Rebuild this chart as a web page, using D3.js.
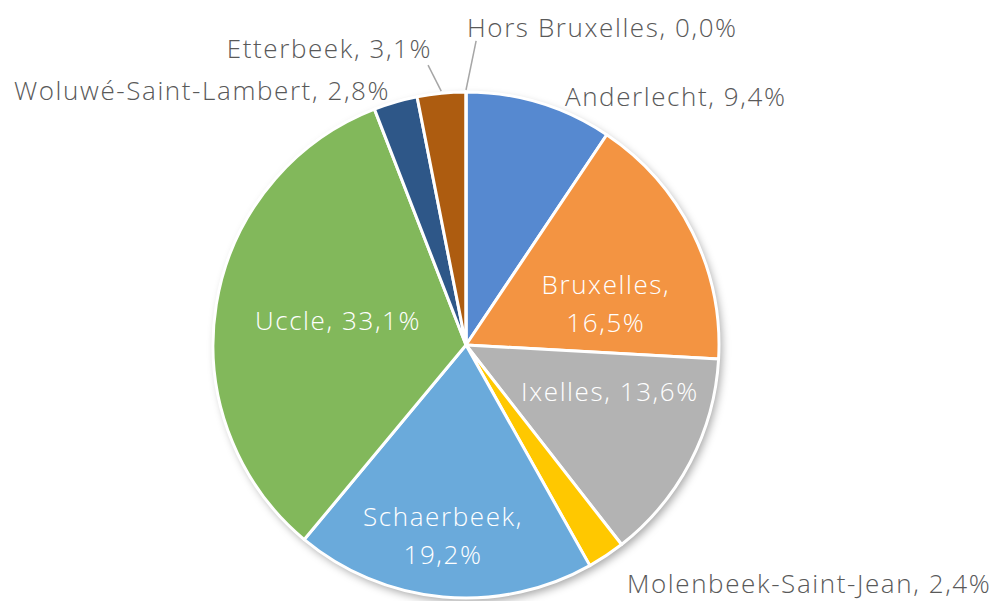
<!DOCTYPE html>
<html>
<head>
<meta charset="utf-8">
<script src="https://cdn.jsdelivr.net/npm/d3@7"></script>
<style>
  body { margin: 0; background: #fff; }
  svg text { font-family: "Open Sans", Lato, sans-serif; font-weight: 300; }
</style>
</head>
<body>
<div class="chart"></div>
<script>
const communes = ["Anderlecht", "Bruxelles", "Ixelles", "Molenbeek-Saint-Jean", "Schaerbeek", "Uccle", "Woluwé-Saint-Lambert", "Etterbeek", "Hors Bruxelles"];
const shares = [9.4, 16.5, 13.6, 2.4, 19.2, 33.1, 2.8, 3.1, 0.0];
const colours = ["#5689d0", "#f39442", "#b3b3b3", "#ffc800", "#6aaadb", "#82b85b", "#2e5788", "#ad5c10", "#7f7f7f"];

// label placement, offsets from the centre in radius units, [dx, dy, anchor, inside]
const labelLayout = [
  [0.391, -0.980, "start", false],
  [0.553, -0.138, "middle", true],
  [0.569, 0.186, "middle", true],
  [0.636, 0.945, "start", false],
  [-0.091, 0.779, "middle", true],
  [-0.506, -0.095, "middle", true],
  [-0.300, -1.004, "end", false],
  [-0.134, -1.170, "end", false],
  [0.004, -1.253, "start", false]
];
// leader lines end points (radius units) for the thin slices near the top
const leaders = { 7: [-0.150, -1.106], 8: [0.040, -1.202] };

const w = 1004, h = 601;
const cx = 466, cy = 345, r = 253;

const fmt = v => d3.format(".1f")(v).replace(".", ",") + "%";

const svg = d3.select(".chart").append("svg")
  .attr("width", w).attr("height", h);

const defs = svg.append("defs");
const f = defs.append("filter").attr("id", "shadow")
  .attr("x", "-10%").attr("y", "-10%").attr("width", "120%").attr("height", "120%");
f.append("feDropShadow").attr("dx", 3).attr("dy", 4).attr("stdDeviation", 4)
  .attr("flood-color", "#000").attr("flood-opacity", 0.35);

const data = communes.map((c, i) => ({ name: c, value: shares[i], i: i }));

const pie = d3.pie().sort(null).value(d => d.value);
const arc = d3.arc().innerRadius(0).outerRadius(r);
const arcs = pie(data);

const g = svg.append("g").attr("transform", `translate(${cx},${cy})`);

g.append("circle").attr("r", r).attr("fill", "#fff").attr("filter", "url(#shadow)");

g.selectAll("path.slice")
  .data(arcs)
  .enter()
  .append("path")
  .attr("class", "slice")
  .attr("d", arc)
  .attr("fill", d => colours[d.data.i])
  .attr("stroke", "#fff")
  .attr("stroke-width", 3)
  .attr("stroke-linejoin", "round");

// leader lines
arcs.forEach(d => {
  const end = leaders[d.data.i];
  if (!end) return;
  const a = (d.startAngle + d.endAngle) / 2;
  g.append("line")
    .attr("x1", Math.sin(a) * (r + 2)).attr("y1", -Math.cos(a) * (r + 2))
    .attr("x2", end[0] * r).attr("y2", end[1] * r)
    .attr("stroke", "#a6a6a6").attr("stroke-width", 1.5);
});

const labels = g.selectAll("text.lbl")
  .data(arcs)
  .enter()
  .append("text")
  .attr("class", "lbl")
  .attr("x", d => labelLayout[d.data.i][0] * r)
  .attr("y", d => labelLayout[d.data.i][1] * r)
  .attr("text-anchor", d => labelLayout[d.data.i][2])
  .attr("fill", d => labelLayout[d.data.i][3] ? "#fff" : "#595959")
  .style("font-size", "26px")
  .style("letter-spacing", "1.6px");

labels.each(function (d) {
  const t = d3.select(this);
  const split = d.data.name === "Bruxelles" || d.data.name === "Schaerbeek";
  if (split) {
    t.append("tspan").attr("x", labelLayout[d.data.i][0] * r).attr("dy", "-0.62em").text(d.data.name + ",");
    t.append("tspan").attr("x", labelLayout[d.data.i][0] * r).attr("dy", "1.45em").text(fmt(d.data.value));
  } else {
    t.attr("dy", "0.35em").text(d.data.name + ", " + fmt(d.data.value));
  }
});
</script>
</body>
</html>
